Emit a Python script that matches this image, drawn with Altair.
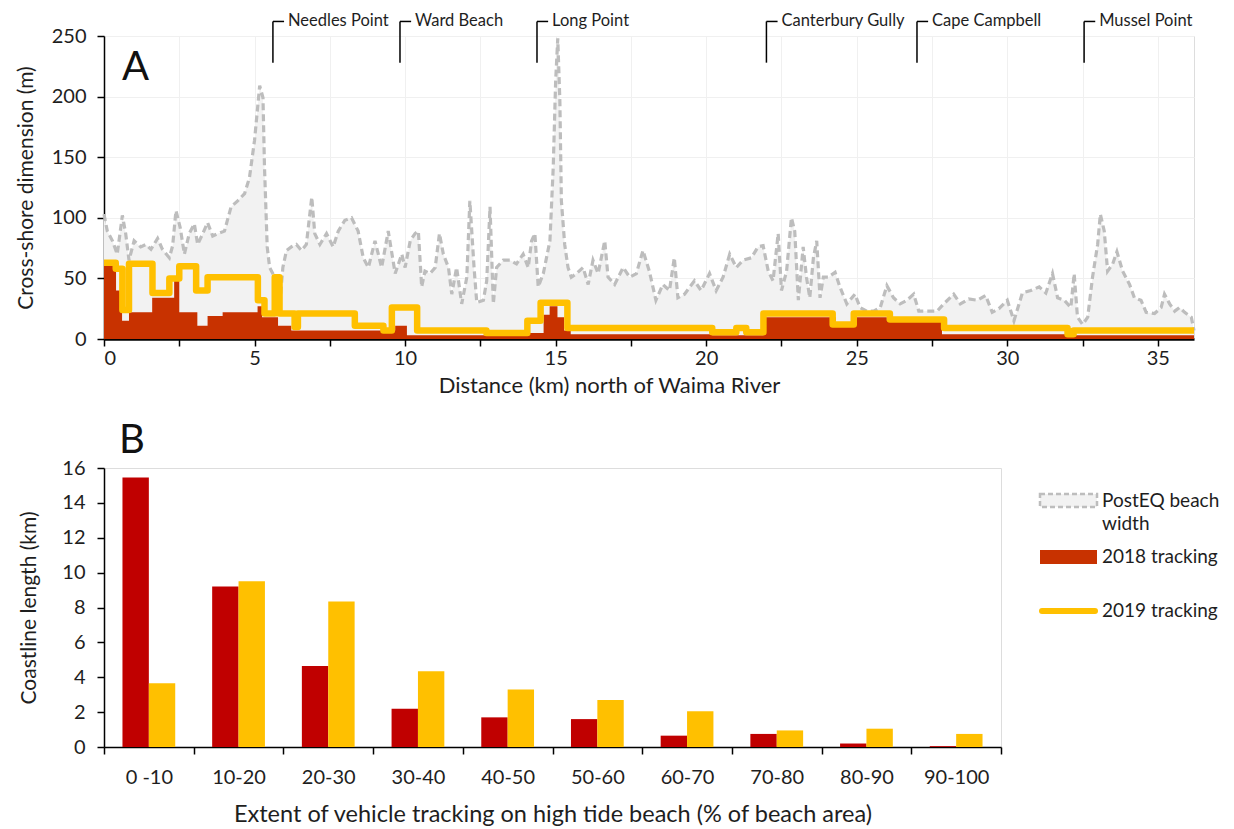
import altair as alt
import pandas as pd

# ---------------- Panel A data ----------------
posteq_km = [0, 0.11, 0.28, 0.44, 0.61, 0.72, 0.83, 1.0, 1.22, 1.39, 1.56, 1.78, 1.94, 2.17, 2.28, 2.39,
             2.53, 2.67, 2.83, 3.0, 3.11, 3.28, 3.44, 3.61, 3.78, 4.0, 4.22, 4.44, 4.67, 4.83, 5.0, 5.17,
             5.28, 5.33, 5.42, 5.5, 5.67, 5.83, 5.94, 6.06, 6.22, 6.39, 6.56, 6.72, 6.9, 7.0, 7.17, 7.39,
             7.61, 7.78, 8.0, 8.22, 8.44, 8.61, 8.78, 9.0, 9.22, 9.44, 9.67, 9.89, 10.0, 10.17, 10.33,
             10.44, 10.55, 10.66, 10.83, 11.0, 11.14, 11.27, 11.44, 11.55, 11.71, 11.88, 12.05, 12.15,
             12.29, 12.38, 12.6, 12.71, 12.82, 12.93, 13.04, 13.26, 13.48, 13.7, 13.92, 14.09, 14.2,
             14.31, 14.42, 14.59, 14.81, 14.92, 15.0, 15.07, 15.14, 15.19, 15.3, 15.41, 15.52, 15.69,
             15.91, 16.08, 16.24, 16.41, 16.63, 16.74, 16.96, 17.24, 17.46, 17.68, 17.9, 18.11, 18.33,
             18.56, 18.78, 18.94, 19.06, 19.28, 19.61, 19.83, 20.11, 20.33, 20.56, 20.78, 21.0, 21.22,
             21.5, 21.72, 21.89, 22.06, 22.22, 22.39, 22.5, 22.67, 22.83, 22.94, 23.06, 23.22, 23.33,
             23.44, 23.56, 23.67, 23.78, 23.89, 24.06, 24.28, 24.44, 24.67, 24.94, 25.11, 25.33, 25.56,
             25.78, 26.0, 26.22, 26.44, 26.67, 26.89, 27.06, 27.33, 27.67, 27.89, 28.22, 28.44, 28.72,
             29.0, 29.28, 29.5, 29.72, 30.0, 30.22, 30.5, 30.78, 31.06, 31.28, 31.5, 31.67, 31.89, 32.11,
             32.22, 32.33, 32.5, 32.67, 32.83, 33.0, 33.09, 33.22, 33.33, 33.5, 33.64, 33.83, 34.06,
             34.22, 34.44, 34.61, 34.89, 35.11, 35.22, 35.39, 35.56, 35.72, 35.89, 36.11, 36.2]
posteq_m = [103, 89, 81, 70, 102, 87, 65, 81, 76, 78, 74, 83, 74, 67, 77, 106,
            92, 70, 87, 95, 78, 87, 96, 85, 87, 89, 109, 114, 120, 133, 164, 209,
            199, 142, 76, 59, 51, 26, 59, 73, 76, 78, 73, 78, 117, 87, 78, 87,
            76, 89, 98, 100, 89, 67, 59, 81, 59, 89, 54, 70, 59, 81, 87,
            89, 43, 56, 54, 59, 87, 70, 59, 37, 59, 29, 51, 114,
            59, 30, 32, 48, 109, 29, 59, 65, 65, 62, 70, 59, 81,
            87, 43, 54, 81, 142, 213, 248, 196, 114, 78, 59, 51, 54,
            59, 45, 65, 54, 81, 51, 45, 59, 51, 54, 73, 56, 32,
            45, 40, 67, 34, 37, 48, 40, 54, 40, 51, 70, 59, 65,
            67, 76, 77, 56, 48, 87, 40, 56, 100, 89, 32, 76, 51,
            34, 67, 81, 34, 51, 51, 55, 43, 29, 37, 26, 23, 23,
            26, 44, 34, 29, 32, 37, 23, 23, 23, 29, 37, 29, 33,
            32, 36, 22, 25, 32, 15, 38, 40, 43, 38, 54, 34, 32, 26,
            54, 18, 12, 18, 51, 78, 103, 89, 56, 62, 72, 56, 45,
            34, 32, 22, 21, 26, 37, 29, 23, 26, 22, 18, 7]

t2018_km = [0, 0.4, 0.6, 0.83, 1.6, 2.33, 2.5, 3.1, 3.44, 3.94, 5.1, 5.25, 5.78, 6.22, 9.67, 10.06,
            14.06, 14.6, 14.8, 15.06, 15.28, 15.5, 20.2, 21.9, 24.3, 24.9, 26.0, 27.83, 32.0, 36.2]
t2018_m = [62, 40, 15, 22, 34, 48, 22, 11, 19, 22, 27, 18, 11, 7, 11, 3,
           5, 20, 27, 18, 7, 4, 3, 18, 12, 18, 15, 4, 3, 3]

t2019_km = [0, 0.39, 0.61, 0.83, 1.61, 2.17, 2.5, 3.06, 3.44, 5.11, 5.33, 5.67, 5.83, 6.33, 6.44,
            8.33, 9.28, 9.56, 10.4, 12.7, 14.06, 14.5, 15.39, 20.2, 21.0, 21.33, 21.9, 24.2, 24.9,
            26.1, 27.9, 32.0, 32.2, 36.2]
t2019_m = [63, 58, 24, 62, 38, 50, 60, 40, 51, 32, 21, 51, 21, 10, 21,
           11, 7, 26, 7, 5, 15, 30, 9, 5.5, 9, 5.5, 21, 12, 21,
           16, 9, 4, 7, 7]

place_names = ["Needles Point", "Ward Beach", "Long Point", "Canterbury Gully", "Cape Campbell", "Mussel Point"]
place_km = [5.61, 9.83, 14.38, 22.0, 27.0, 32.55]

# ---------------- Panel B data ----------------
categories = ["0 -10", "10-20", "20-30", "30-40", "40-50", "50-60", "60-70", "70-80", "80-90", "90-100"]
bars_2018 = [15.45, 9.2, 4.65, 2.2, 1.7, 1.6, 0.65, 0.75, 0.2, 0.05]
bars_2019 = [3.65, 9.5, 8.35, 4.35, 3.3, 2.7, 2.05, 0.95, 1.05, 0.75]

FONT = "Lato"
TXT = "#1E1E1E"
GREY = "#BDBDBD"
FILL = "#F2F2F2"
RED_AREA = "#C83200"
RED_BAR = "#C00000"
YELLOW = "#FFC000"

posteq = pd.DataFrame({"km": posteq_km, "m": posteq_m})
t2018 = pd.DataFrame({"km": t2018_km, "m": t2018_m})
t2019 = pd.DataFrame({"km": t2019_km, "m": t2019_m})
places = pd.DataFrame({"label": place_names, "km": place_km})

x_scale = alt.Scale(domain=[0, 36.2], nice=False, zero=False)
y_scale = alt.Scale(domain=[0, 250], nice=False)
x_axis = alt.Axis(
    title="Distance (km) north of Waima River",
    values=[i * 2.5 for i in range(15)],
    labelExpr="datum.value % 5 === 0 ? datum.label : ''",
    grid=True, gridColor="#F0F0F0", gridWidth=1,
    domainColor="#000000", domainWidth=2.5, tickColor="#000000", tickWidth=1.5, tickSize=7,
    labelFontSize=20, labelPadding=2, titleFontSize=22, titlePadding=7, titleFontWeight="normal",
    titleX=505, titleAlign="center",
    labelColor=TXT, titleColor=TXT,
)
y_axis = alt.Axis(
    title="Cross-shore dimension (m)",
    values=[0, 50, 100, 150, 200, 250],
    grid=True, gridColor="#F0F0F0", gridWidth=1,
    domainColor="#000000", domainWidth=1.5, tickColor="#000000", tickWidth=1.5, tickSize=7,
    labelFontSize=20, labelPadding=11, titleFontSize=21, titlePadding=15, titleFontWeight="normal",
    labelColor=TXT, titleColor=TXT,
)
X = alt.X("km:Q", scale=x_scale, axis=x_axis)
Y = alt.Y("m:Q", scale=y_scale, axis=y_axis)

fill_area = alt.Chart(posteq).mark_area(color=FILL, interpolate="linear").encode(x=X, y=Y)
dash_line = alt.Chart(posteq).mark_line(color=GREY, strokeWidth=3.2, strokeDash=[7, 4]).encode(x=X, y=Y)
red_area = alt.Chart(t2018).mark_area(color=RED_AREA, interpolate="step-after").encode(x=X, y=Y)
yel_line = alt.Chart(t2019).mark_line(color=YELLOW, strokeWidth=6.5, interpolate="step-after",
                                      strokeJoin="round").encode(x=X, y=Y)

ann = alt.Chart(places).transform_calculate(
    ytop="262", ybot="228", kend="datum.km + 0.37", ktext="datum.km + 0.5"
)
ann_v = ann.mark_rule(color="#000000", strokeWidth=1.5).encode(
    x=X, y=alt.Y("ytop:Q", scale=y_scale, axis=y_axis), y2="ybot:Q")
ann_h = ann.mark_rule(color="#000000", strokeWidth=1.5).encode(
    x=X, x2="kend:Q", y=alt.Y("ytop:Q", scale=y_scale, axis=y_axis))
ann_t = ann.mark_text(align="left", baseline="middle", font=FONT, fontSize=16.5, color=TXT).encode(
    x=alt.X("ktext:Q", scale=x_scale, axis=x_axis), y=alt.Y("ytop:Q", scale=y_scale, axis=y_axis), text="label:N")

label_a = alt.Chart(pd.DataFrame({"t": ["A"]})).mark_text(
    align="left", baseline="middle", font=FONT, fontSize=40, color="#111111"
).encode(x=alt.value(18), y=alt.value(32), text="t:N")

top = alt.layer(fill_area, dash_line, red_area, yel_line, ann_v, ann_h, ann_t, label_a).properties(
    width=1090, height=303)

# ---------------- Panel B ----------------
bars_df = pd.DataFrame({
    "cat": categories * 2,
    "year": ["2018 tracking"] * len(categories) + ["2019 tracking"] * len(categories),
    "len": bars_2018 + bars_2019,
})
bars = alt.Chart(bars_df).mark_bar().encode(
    x=alt.X("cat:N", sort=categories, scale=alt.Scale(paddingInner=0, paddingOuter=0),
            axis=alt.Axis(title="Extent of vehicle tracking on high tide beach (% of beach area)",
                          labelAngle=0, tickBand="extent", domainColor="#000000", domainWidth=1.5,
                          tickColor="#000000", tickWidth=1.5, tickSize=7, labelFontSize=20,
                          labelPadding=13, titleFontSize=23.5, titlePadding=15, titleFontWeight="normal",
                          labelColor=TXT, titleColor=TXT)),
    xOffset=alt.XOffset("year:N", scale=alt.Scale(paddingOuter=0.7, paddingInner=0)),
    y=alt.Y("len:Q", scale=alt.Scale(domain=[0, 16], nice=False),
            axis=alt.Axis(title="Coastline length (km)", values=list(range(0, 17, 2)), grid=False,
                          domainColor="#000000", domainWidth=1.5, tickColor="#000000", tickWidth=1.5,
                          tickSize=7, labelFontSize=20, labelPadding=12, titleFontSize=21,
                          titlePadding=22, titleFontWeight="normal",
                          labelColor=TXT, titleColor=TXT)),
    color=alt.Color("year:N", scale=alt.Scale(domain=["2018 tracking", "2019 tracking"],
                                              range=[RED_BAR, YELLOW]), legend=None),
)

label_b = alt.Chart(pd.DataFrame({"t": ["B"]})).mark_text(
    align="left", baseline="middle", font=FONT, fontSize=40, color="#111111"
).encode(x=alt.value(15), y=alt.value(-27), text="t:N")

one = pd.DataFrame({"k": [0]})
leg_dash = alt.Chart(one).mark_rect(fill=FILL, stroke=GREY, strokeWidth=2.5, strokeDash=[5, 3]).encode(
    x=alt.value(936), x2=alt.value(993), y=alt.value(26), y2=alt.value(39))
leg_red = alt.Chart(one).mark_rect(fill=RED_AREA).encode(
    x=alt.value(936), x2=alt.value(993), y=alt.value(82), y2=alt.value(96))
leg_yel = alt.Chart(one).mark_rule(stroke=YELLOW, strokeWidth=6, strokeCap="round").encode(
    x=alt.value(938), x2=alt.value(991), y=alt.value(143))
leg_text = alt.Chart(pd.DataFrame({"t": ["PostEQ beach", "width", "2018 tracking", "2019 tracking"],
                                   "row": [0, 1, 2, 3]})).transform_calculate(
    py="[33, 56, 89, 143][datum.row]"
).mark_text(align="left", baseline="middle", font=FONT, fontSize=19, color=TXT).encode(
    x=alt.value(998), y=alt.Y("py:Q", scale=None), text="t:N")

bottom = alt.layer(bars, label_b, leg_dash, leg_red, leg_yel, leg_text).properties(width=897, height=279)

chart = alt.vconcat(top, bottom, spacing=129, bounds="flush").properties(
    padding={"left": 14, "top": 12, "right": 2, "bottom": 2}
).configure_view(stroke=None).configure(font=FONT)

chart.save("out.html", embed_options={"renderer": "svg", "actions": False})
